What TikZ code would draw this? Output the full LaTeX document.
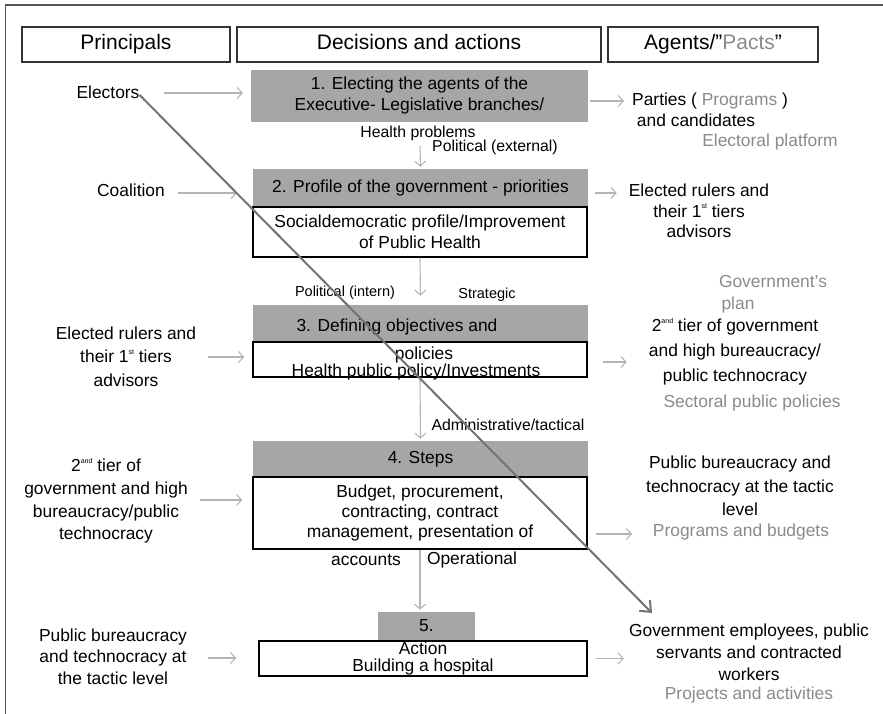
\documentclass[tikz,border=0pt]{standalone}
\usepackage{fontspec}
\setmainfont{Liberation Sans}
\usetikzlibrary{arrows.meta,positioning}
\definecolor{boxgray}{HTML}{A6A6A6}
\definecolor{linkgray}{HTML}{B4B4B4}
\definecolor{notegray}{HTML}{8A8A8A}
\definecolor{diaggray}{HTML}{737373}
\definecolor{framegray}{HTML}{555555}
\newcommand{\tiersup}[1]{\raisebox{0.9ex}{\fontsize{7}{7}\selectfont #1}}

\begin{document}
\begin{tikzpicture}[x=1pt,y=-1pt,
  every node/.style={inner sep=0pt},
  body/.style={font=\fontsize{17.4}{21}\selectfont,align=center},
  oneline/.style={text height=12.6pt,text depth=3.6pt},
  head/.style={draw=black!80,line width=1.3pt,minimum height=35pt,
               font=\fontsize{21}{24}\selectfont,text height=15.2pt,text depth=4.4pt},
  gbox/.style={body,fill=boxgray},
  wbox/.style={body,draw=black,line width=1.4pt,fill=white},
  note/.style={body,text=notegray},
  tag/.style={font=\fontsize{15.8}{18}\selectfont},
  link/.style={-{Straight Barb[length=5pt,width=11pt]},draw=linkgray,line width=1.1pt},
  diag/.style={-{Straight Barb[length=9pt,width=15pt]},draw=diaggray,line width=2pt}]
\useasboundingbox (0,0) rectangle (883,714);
\draw[framegray,line width=1.3pt] (883,5) -- (5.5,5) -- (5.5,714);

% column heads
\node[head,minimum width=208pt](hP) at (126,44.5){Principals};
\node[head,minimum width=364pt](hD) at (419,44.5){Decisions and actions};
\node[head,minimum width=210pt](hA) at (713,44.5){Agents/”{\color{notegray}Pacts}”};

% decisions and actions
\node[gbox,minimum width=337pt,minimum height=52pt](b1) at (419.5,96)
  {1. Electing the agents of the\\Executive- Legislative branches/};
\node[gbox,oneline,minimum width=335pt,minimum height=38pt](b2g) at (420.5,188)
  {2. Profile of the government - priorities};
\node[wbox,minimum width=334pt,minimum height=50pt](b2w) at (420,232)
  {Socialdemocratic profile/Improvement\\of Public Health};
\node[gbox,minimum width=335pt,minimum height=37pt](b3g) at (420.5,323.5){};
\node[wbox,minimum width=334pt,minimum height=35pt](b3w) at (420,359.5){};
\node[body,anchor=base](t3a) at (397,331){3. Defining objectives and};
\node[body,anchor=base](t3b) at (424,359.5){policies};
\node[body,anchor=base](t3c) at (416,376){Health public policy/Investments};
\node[gbox,oneline,minimum width=335pt,minimum height=36pt](b4g) at (420.5,459){4. Steps};
\node[wbox,minimum width=334pt,minimum height=72pt,font=\fontsize{17.4}{20}\selectfont](b4w)
  at (420,513){Budget, procurement,\\contracting, contract\\management, presentation of};
\node[body](t4a) at (366,560){accounts};
\node[body](t4b) at (472,560){Operational};
\node[gbox,oneline,minimum width=97pt,minimum height=29pt](b5g) at (426.5,626.5){5.};
\node[wbox,minimum width=328pt,minimum height=35pt,font=\fontsize{17.4}{16.5}\selectfont](b5w)
  at (423,658.5){Action\\Building a hospital};

% flow labels
\node[tag](fl1) at (418,133){Health problems};
\node[tag](fl2) at (495,147){Political (external)};
\node[tag,font=\fontsize{14.5}{17}\selectfont](fl3) at (345,293){Political (intern)};
\node[tag,font=\fontsize{14.5}{17}\selectfont](fl4) at (487,295){Strategic};
\node[tag](fl5) at (508,425){Administrative/tactical};

% principals
\node[body](el) at (108,92){Electors};
\node[body](co) at (131,190){Coalition};
\node[body,font=\fontsize{17.4}{23.5}\selectfont](l3) at (126,356.5)
  {Elected rulers and\\their 1\tiersup{st} tiers\\advisors};
\node[body,font=\fontsize{17.4}{22.7}\selectfont](l4) at (106,501)
  {2\tiersup{and} tier of\\government and high\\bureaucracy/public\\technocracy};
\node[body,font=\fontsize{17.4}{21.5}\selectfont](l5) at (113,656.5)
  {Public bureaucracy\\and technocracy at\\the tactic level};

% agents and pacts
\node[body](r1a) at (710,101){Parties ( {\color{notegray}Programs} )};
\node[body](r1b) at (696,120){and candidates};
\node[note](n1) at (770,142){Electoral platform};
\node[body,font=\fontsize{17.4}{20.5}\selectfont](r2) at (699,211)
  {Elected rulers and\\their 1\tiersup{st} tiers\\advisors};
\node[note](n2a) at (773,282){Government’s};
\node[note](n2b) at (738,305){plan};
\node[body,font=\fontsize{17.4}{25}\selectfont](r3) at (735,352)
  {2\tiersup{and} tier of government\\and high bureaucracy/\\public technocracy};
\node[note](n3) at (752,403){Sectoral public policies};
\node[body,font=\fontsize{17.4}{23.5}\selectfont](r4) at (740,486)
  {Public bureaucracy and\\technocracy at the tactic\\level};
\node[note](n4) at (741,532){Programs and budgets};
\node[body,font=\fontsize{17.4}{22}\selectfont](r5) at (749,652)
  {Government employees, public\\servants and contracted\\workers};
\node[note](n5) at (749,695){Projects and activities};

% down the middle
\draw[link,shorten <=24pt,shorten >=2pt] (b1.south) -- (b2g.north);
\draw[link,shorten >=9pt] (b2w.south) -- (b3g.north);
\draw[link,shorten >=2pt] (b3w.south) -- (b4g.north);
\draw[link,shorten >=2pt] (b4w.south) -- (b4w.south |- b5g.north);

% principals to decisions
\draw[link,shorten <=24pt,shorten >=8pt] ([yshift=-1pt]el.east) -- ([yshift=-1pt]el.east -| b1.west);
\draw[link,shorten <=13pt,shorten >=16pt] ([yshift=-3pt]co.east) -- ([yshift=-3pt]co.east -| b2g.west);
\draw[link,shorten <=12pt,shorten >=8pt] ([yshift=-0.5pt]l3.east) -- ([yshift=-0.5pt]l3.east -| b3w.west);
\draw[link,shorten <=12pt,shorten >=10pt] ([yshift=1pt]l4.east) -- ([yshift=1pt]l4.east -| b4w.west);
\draw[link,shorten <=21pt,shorten >=22pt] ([yshift=-1.5pt]l5.east) -- ([yshift=-1.5pt]l5.east -| b5w.west);

% decisions to agents
\draw[link,shorten <=2pt,shorten >=8pt] (r1a.west -| b1.east) -- (r1a.west);
\draw[link,shorten <=7pt,shorten >=12pt] ([yshift=-5pt]b2g.east) -- ([yshift=-5pt]b2g.east -| r2.west);
\draw[link,shorten <=15pt,shorten >=22pt] ([yshift=-2.5pt]b3w.east) -- ([yshift=-2.5pt]b3w.east -| r3.west);
\draw[link,shorten <=8pt,shorten >=14pt] ([yshift=-21pt]b4w.east) -- ([yshift=-21pt]b4w.east -| r4.west);
\draw[link,shorten <=8pt,shorten >=5pt] (b5w.east) -- (b5w.east -| r5.west);

% electors straight to the workers
\coordinate (dtip) at (652,613);
\draw[diag] ([yshift=-3pt]el.east) -- (dtip);
\end{tikzpicture}
\end{document}
